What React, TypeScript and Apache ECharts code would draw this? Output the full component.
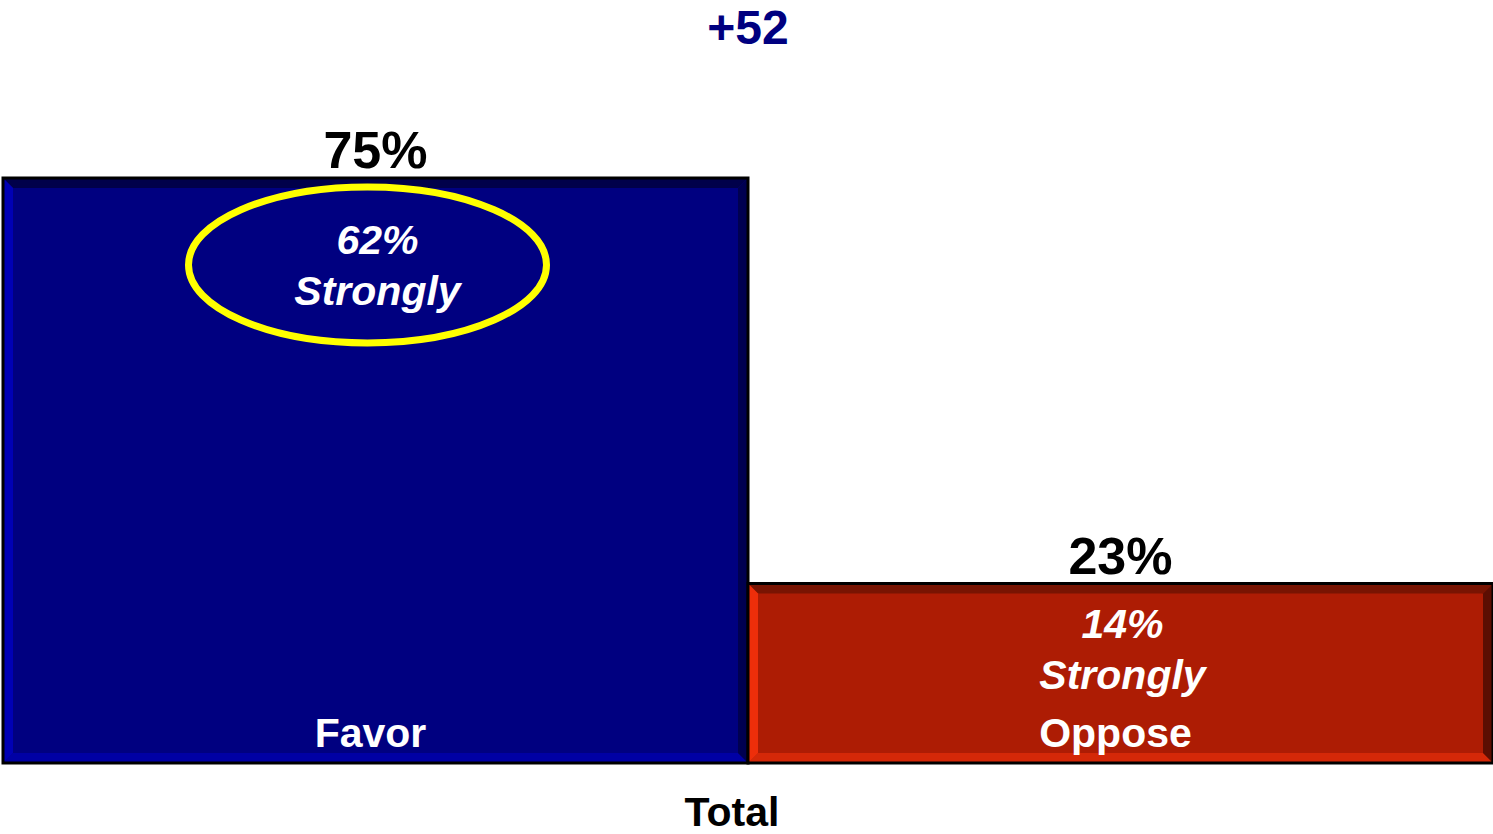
import React, { useEffect, useRef } from "react";
import * as echarts from "echarts";

const categories = ["Favor", "Oppose"];
const totals = [75, 23];
const strongly = [62, 14];
const circled = [true, false];
const groupLabel = "Total";

const FONT = "'Liberation Sans', Arial, Helvetica, sans-serif";

const palettes = [
  { face: "#000080", top: "#00004a", left: "#0000b4", right: "#000050", bottom: "#0000a4" },
  { face: "#ad1c04", top: "#781402", left: "#ee2e0a", right: "#5c0e02", bottom: "#d42808" },
];

export default function App() {
  const ref = useRef<HTMLDivElement>(null);
  useEffect(() => {
    if (!ref.current) return;
    const chart = echarts.init(ref.current, null, { renderer: "svg" });
    const diff = totals[0] - totals[1];
    const bev = 10;
    const option: any = {
      animation: false,
      grid: { left: 3, right: 0, top: 0, bottom: 71 },
      xAxis: {
        type: "category",
        data: categories,
        axisLine: { show: false },
        axisTick: { show: false },
        axisLabel: { show: false },
      },
      yAxis: {
        type: "value",
        min: 0,
        max: 97.8,
        show: false,
        splitLine: { show: false },
      },
      graphic: [
        {
          type: "text",
          x: 748,
          y: 27,
          style: {
            text: (diff >= 0 ? "+" : "") + diff,
            fill: "#000080",
            font: `bold 48px ${FONT}`,
            lineHeight: 40,
            align: "center",
            verticalAlign: "middle",
          },
        },
        {
          type: "text",
          x: 732,
          y: 812,
          style: {
            text: groupLabel,
            fill: "#000000",
            font: `bold 41px ${FONT}`,
            lineHeight: 36,
            align: "center",
            verticalAlign: "middle",
          },
        },
      ],
      series: [
        {
          type: "custom",
          data: totals.map((v, i) => [i, v, strongly[i]]),
          renderItem: (params: any, api: any) => {
            const i = params.dataIndex;
            const idx = api.value(0);
            const val = api.value(1);
            const str = api.value(2);
            const band = api.size([1, 0])[0];
            const c0 = api.coord([idx, 0]);
            const c1 = api.coord([idx, val]);
            const x0 = c0[0] - band / 2;
            const x1 = c0[0] + band / 2;
            const yb = c0[1];
            const yt = c1[1];
            const cx = c0[0];
            const p = palettes[i % palettes.length];
            const children: any[] = [
              { type: "rect", shape: { x: x0, y: yt, width: x1 - x0, height: yb - yt }, style: { fill: p.face } },
              {
                type: "polygon",
                shape: { points: [[x0, yt], [x1, yt], [x1 - bev, yt + bev], [x0 + bev, yt + bev]] },
                style: { fill: p.top },
              },
              {
                type: "polygon",
                shape: { points: [[x0, yb], [x1, yb], [x1 - bev, yb - bev], [x0 + bev, yb - bev]] },
                style: { fill: p.bottom },
              },
              {
                type: "polygon",
                shape: { points: [[x0, yt], [x0 + bev, yt + bev], [x0 + bev, yb - bev], [x0, yb]] },
                style: { fill: p.left },
              },
              {
                type: "polygon",
                shape: { points: [[x1, yt], [x1 - bev, yt + bev], [x1 - bev, yb - bev], [x1, yb]] },
                style: { fill: p.right },
              },
              {
                type: "rect",
                shape: { x: x0, y: yt, width: x1 - x0, height: yb - yt },
                style: { fill: "none", stroke: "#000000", lineWidth: 3 },
              },
              {
                type: "text",
                style: {
                  x: cx,
                  y: yt - 28,
                  text: val + "%",
                  fill: "#000000",
                  font: `bold 52px ${FONT}`,
                  align: "center",
                  verticalAlign: "middle",
                },
              },
              {
                type: "text",
                style: {
                  x: cx - 5,
                  y: yb - 30,
                  text: categories[idx],
                  fill: "#ffffff",
                  font: `bold 41px ${FONT}`,
                  align: "center",
                  verticalAlign: "middle",
                },
              },
            ];
            const off = circled[i] ? 62 : 40;
            if (circled[i]) {
              children.push({
                type: "ellipse",
                shape: { cx: cx - 8, cy: yt + off + 25, rx: 179, ry: 78 },
                style: { fill: "none", stroke: "#ffff00", lineWidth: 7 },
              });
            }
            children.push({
              type: "text",
              style: {
                x: cx + 2,
                y: yt + off,
                text: str + "%",
                fill: "#ffffff",
                font: `italic bold 41px ${FONT}`,
                align: "center",
                verticalAlign: "middle",
              },
            });
            children.push({
              type: "text",
              style: {
                x: cx + 2,
                y: yt + off + 51,
                text: "Strongly",
                fill: "#ffffff",
                font: `italic bold 41px ${FONT}`,
                align: "center",
                verticalAlign: "middle",
              },
            });
            return { type: "group", children };
          },
        },
      ],
    };
    chart.setOption(option);
    return () => chart.dispose();
  }, []);
  return (
    <div
      ref={ref}
      style={{ position: "fixed", left: 0, top: 0, width: 1493, height: 834, background: "#ffffff" }}
    />
  );
}
